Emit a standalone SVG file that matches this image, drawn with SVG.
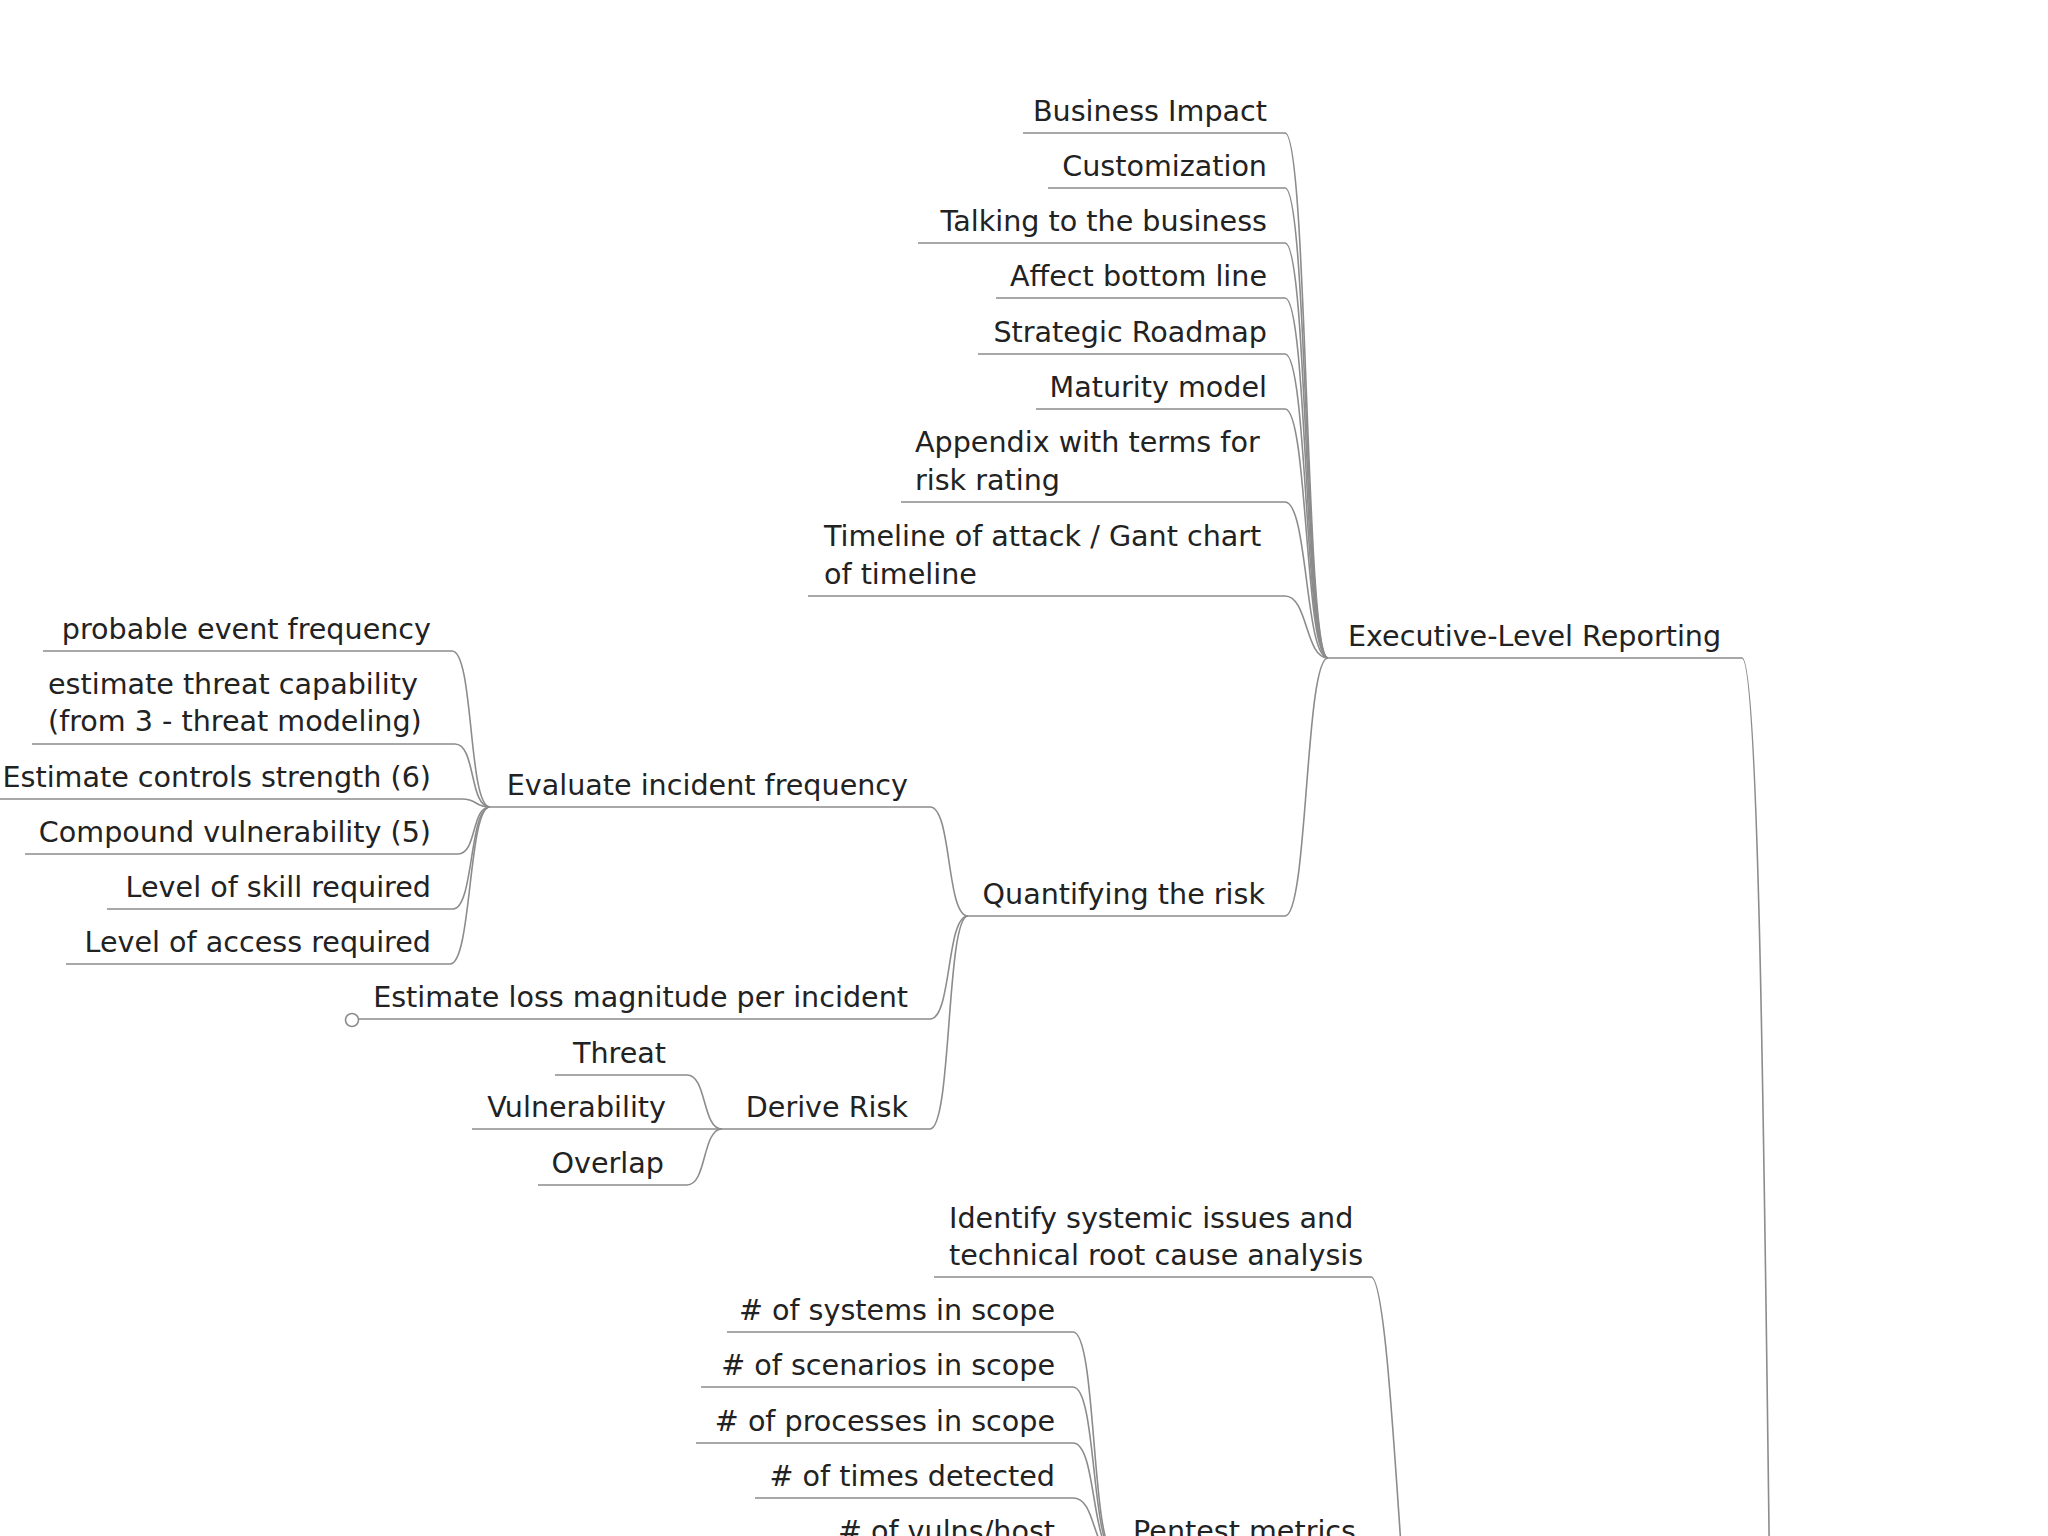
<svg xmlns="http://www.w3.org/2000/svg" width="2048" height="1536" viewBox="0 0 2048 1536">
<style>
  text { font-family: "DejaVu Sans", "Liberation Sans", sans-serif; font-size: 28.6px; fill: #222; }
  .r { text-anchor: end; }
  .l { text-anchor: start; }
  .edges path { fill: none; stroke: #8c8c8c; stroke-width: 1.6; }
  .knob { fill: #fff; stroke: #8c8c8c; stroke-width: 1.6; }
</style>
<rect width="2048" height="1536" fill="#fff"/>
<g class="edges" id="connectors">
  <!-- Executive-Level Reporting -->
  <path d="M1328,658 H1742 C1774,658 1764,2400 1796,2400"/>
  <!-- top group -->
  <path d="M1023,133 H1285 C1308,133 1305,658 1328,658"/>
  <path d="M1048,188 H1285 C1308,188 1305,658 1328,658"/>
  <path d="M918,243 H1285 C1308,243 1305,658 1328,658"/>
  <path d="M996,298 H1285 C1308,298 1305,658 1328,658"/>
  <path d="M978,354 H1285 C1308,354 1305,658 1328,658"/>
  <path d="M1036,409 H1285 C1308,409 1305,658 1328,658"/>
  <path d="M901,502 H1285 C1308,502 1305,658 1328,658"/>
  <path d="M808,596 H1285 C1308,596 1305,658 1328,658"/>
  <!-- Quantifying the risk -->
  <path d="M968,916 H1285 C1308,916 1305,658 1328,658"/>
  <path d="M490,807 H930 C952,807 946,916 968,916"/>
  <path d="M359,1019 H930 C952,1019 946,916 968,916"/>
  <path d="M722,1129 H930 C952,1129 946,916 968,916"/>
  <!-- Evaluate incident frequency children -->
  <path d="M43,651 H452 C474,651 468,807 490,807"/>
  <path d="M32,744 H455 C476,744 469,807 490,807"/>
  <path d="M0,799 H462 C478,799 474,807 490,807"/>
  <path d="M25,854 H458 C477,854 471,807 490,807"/>
  <path d="M107,909 H453 C474,909 469,807 490,807"/>
  <path d="M66,964 H450 C472,964 468,807 490,807"/>
  <!-- Derive Risk children -->
  <path d="M555,1075 H687 C707,1075 702,1129 722,1129"/>
  <path d="M472,1129 H722"/>
  <path d="M538,1185 H687 C707,1185 702,1129 722,1129"/>
  <!-- lower part -->
  <path d="M934,1277 H1371 C1395,1277 1406,1800 1430,1800"/>
  <path d="M1115,1553 H1374 C1398,1553 1406,1800 1430,1800"/>
  <path d="M727,1332 H1073 C1097,1332 1091,1553 1115,1553"/>
  <path d="M701,1387 H1073 C1097,1387 1091,1553 1115,1553"/>
  <path d="M696,1443 H1073 C1097,1443 1091,1553 1115,1553"/>
  <path d="M755,1498 H1073 C1097,1498 1091,1553 1115,1553"/>
  <path d="M825,1553 H1115"/>
</g>
<circle class="knob" cx="352" cy="1020" r="6.5"/>

<g id="n-exec"><text class="l" x="1348" y="646">Executive-Level Reporting</text></g>
<g id="n-business-impact"><text class="r" x="1267" y="121">Business Impact</text></g>
<g id="n-customization"><text class="r" x="1267" y="176">Customization</text></g>
<g id="n-talking"><text class="r" x="1267" y="231">Talking to the business</text></g>
<g id="n-affect"><text class="r" x="1267" y="286">Affect bottom line</text></g>
<g id="n-strategic"><text class="r" x="1267" y="342">Strategic Roadmap</text></g>
<g id="n-maturity"><text class="r" x="1267" y="397">Maturity model</text></g>
<g id="n-appendix"><text class="l" x="915" y="452">Appendix with terms for</text><text class="l" x="915" y="490">risk rating</text></g>
<g id="n-timeline"><text class="l" x="824" y="546">Timeline of attack / Gant chart</text><text class="l" x="824" y="584">of timeline</text></g>
<g id="n-quant"><text class="r" x="1265" y="904">Quantifying the risk</text></g>
<g id="n-evaluate"><text class="r" x="908" y="795">Evaluate incident frequency</text></g>
<g id="n-loss"><text class="r" x="908" y="1007">Estimate loss magnitude per incident</text></g>
<g id="n-derive"><text class="r" x="908" y="1117">Derive Risk</text></g>
<g id="n-probable"><text class="r" x="431" y="639">probable event frequency</text></g>
<g id="n-threatcap"><text class="l" x="48" y="694">estimate threat capability</text><text class="l" x="48" y="731">(from 3 - threat modeling)</text></g>
<g id="n-controls"><text class="r" x="431" y="787">Estimate controls strength (6)</text></g>
<g id="n-compound"><text class="r" x="431" y="842">Compound vulnerability (5)</text></g>
<g id="n-skill"><text class="r" x="431" y="897">Level of skill required</text></g>
<g id="n-access"><text class="r" x="431" y="952">Level of access required</text></g>
<g id="n-threat"><text class="r" x="666" y="1063">Threat</text></g>
<g id="n-vuln"><text class="r" x="666" y="1117">Vulnerability</text></g>
<g id="n-overlap"><text class="r" x="664" y="1173">Overlap</text></g>
<g id="n-identify"><text class="l" x="949" y="1228">Identify systemic issues and</text><text class="l" x="949" y="1265">technical root cause analysis</text></g>
<g id="n-systems"><text class="r" x="1055" y="1320"># of systems in scope</text></g>
<g id="n-scenarios"><text class="r" x="1055" y="1375"># of scenarios in scope</text></g>
<g id="n-processes"><text class="r" x="1055" y="1431"># of processes in scope</text></g>
<g id="n-times"><text class="r" x="1055" y="1486"># of times detected</text></g>
<g id="n-vulns"><text class="r" x="1055" y="1541"># of vulns/host</text></g>
<g id="n-pentest"><text class="r" x="1356" y="1541">Pentest metrics</text></g>
</svg>
